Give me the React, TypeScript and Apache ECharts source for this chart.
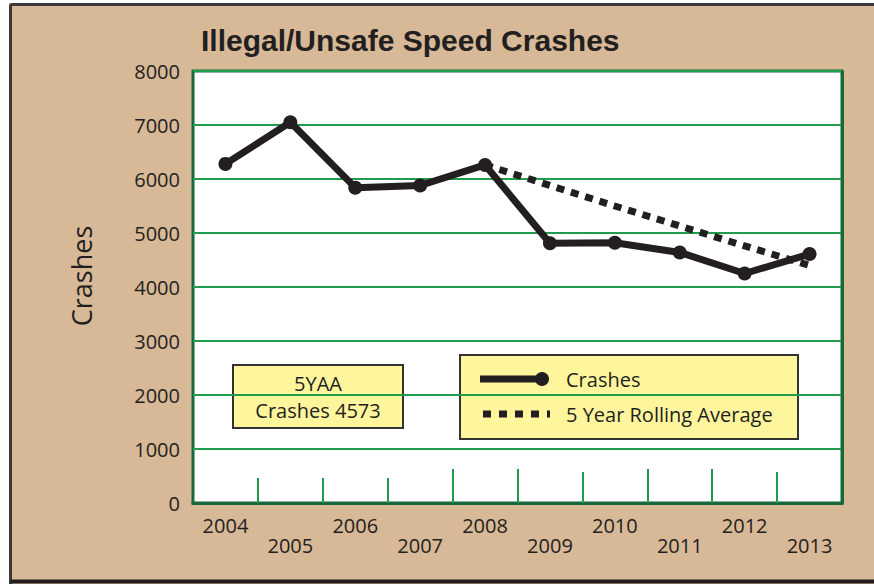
import React, { useEffect, useRef } from "react";
import * as echarts from "echarts";

const years = ["2004", "2005", "2006", "2007", "2008", "2009", "2010", "2011", "2012", "2013"];
const crashes = [6280, 7050, 5840, 5880, 6260, 4810, 4820, 4640, 4250, 4610];
const rollingAvg = [null, null, null, null, 6260, 5880, 5500, 5130, 4760, 4400];
const yTicks = { min: 0, max: 8000, interval: 1000 };
const annotationLines = ["5YAA", "Crashes 4573"];
const seriesNames = ["Crashes", "5 Year Rolling Average"];

const TAN = "#d7b897";
const INK = "#231f20";
const YELLOW = "#fef59c";
const DARK_GREEN = "#17683a";
const GREEN = "#1f9d4d";
const FONT = "'Open Sans', 'Noto Sans', sans-serif";

export default function App() {
  const ref = useRef<HTMLDivElement>(null);
  useEffect(() => {
    document.body.style.margin = "0";
    const chart = echarts.init(ref.current!, undefined, { renderer: "svg" });
    const tickAxis = (len: number, idx: number[]) => ({
      type: "category",
      data: years,
      position: "bottom",
      boundaryGap: true,
      axisLine: { show: false },
      axisLabel: { show: false },
      splitLine: { show: false },
      axisTick: {
        show: true,
        inside: true,
        length: len,
        interval: (i: number) => idx.includes(i),
        lineStyle: { color: GREEN, width: 2 },
      },
    });
    chart.setOption({
      animation: false,
      backgroundColor: TAN,
      textStyle: { fontFamily: FONT },
      title: {
        text: "Illegal/Unsafe Speed Crashes",
        left: 196,
        top: 20,
        textStyle: {
          fontFamily: "'Liberation Sans Narrow', 'Arial Narrow', sans-serif",
          fontWeight: "bold",
          fontSize: 30,
          color: INK,
        },
      },
      grid: {
        left: 193,
        right: 32,
        top: 71,
        bottom: 81,
        show: true,
        backgroundColor: "#ffffff",
        borderColor: DARK_GREEN,
        borderWidth: 3,
        containLabel: false,
      },
      xAxis: [
        {
          type: "category",
          data: years,
          position: "bottom",
          boundaryGap: true,
          axisLine: { show: true, lineStyle: { color: DARK_GREEN, width: 3 } },
          axisTick: {
            show: true,
            inside: true,
            length: 25,
            interval: (i: number) => i >= 1 && i <= 3,
            lineStyle: { color: GREEN, width: 2 },
          },
          axisLabel: {
            interval: 0,
            fontSize: 20,
            color: INK,
            fontFamily: FONT,
            margin: 12,
            lineHeight: 20,
            formatter: (v: string, i: number) => (i % 2 === 1 ? "\n" + v : v),
          },
          splitLine: { show: false },
        },
        tickAxis(34, [4, 5, 7, 8]),
        tickAxis(31, [6, 9]),
      ],
      yAxis: {
        type: "value",
        min: yTicks.min,
        max: yTicks.max,
        interval: yTicks.interval,
        name: "Crashes",
        nameLocation: "middle",
        nameGap: 98,
        nameRotate: 90,
        nameTextStyle: { fontSize: 27, color: INK, fontFamily: FONT, padding: [0, 0, 0, 22] },
        axisLine: { show: false },
        axisTick: { show: false },
        axisLabel: {
          fontSize: 20,
          color: INK,
          fontFamily: FONT,
          margin: 13,
          formatter: (v: number) => String(v),
        },
        splitLine: { show: true, lineStyle: { color: GREEN, width: 2 } },
      },
      series: [
        {
          name: seriesNames[1],
          type: "line",
          data: rollingAvg,
          xAxisIndex: 0,
          showSymbol: false,
          symbol: "none",
          lineStyle: { color: INK, width: 7, type: [8, 7], cap: "butt" },
          itemStyle: { color: INK },
          z: 3,
        },
        {
          name: seriesNames[0],
          type: "line",
          data: crashes,
          xAxisIndex: 0,
          symbol: "circle",
          symbolSize: 14,
          lineStyle: { color: INK, width: 7, join: "round" },
          itemStyle: { color: INK },
          z: 4,
        },
      ],
      graphic: [
        { type: "rect", shape: { x: 0, y: 0, width: 874, height: 3 }, style: { fill: "#ffffff" }, silent: true },
        { type: "rect", shape: { x: 0, y: 0, width: 9, height: 584 }, style: { fill: "#ffffff" }, silent: true },
        { type: "line", shape: { x1: 10.5, y1: 4.5, x2: 874, y2: 4.5 }, style: { stroke: "#3a3a3a", lineWidth: 3 }, silent: true },
        { type: "line", shape: { x1: 10.5, y1: 4.5, x2: 10.5, y2: 584 }, style: { stroke: "#3a3a3a", lineWidth: 3 }, silent: true },
        { type: "line", shape: { x1: 10.5, y1: 581.5, x2: 874, y2: 581.5 }, style: { stroke: "#231f20", lineWidth: 4 }, silent: true },
        { type: "line", z: 100, shape: { x1: 842.5, y1: 71, x2: 842.5, y2: 504 }, style: { stroke: DARK_GREEN, lineWidth: 3 }, silent: true },
        {
          type: "group",
          left: 232,
          top: 364,
          children: [
            { type: "rect", shape: { x: 0, y: 0, width: 170, height: 63 }, style: { fill: YELLOW, stroke: "#333", lineWidth: 2 } },
            { type: "text", x: 85, y: 18, style: { text: annotationLines[0], fontSize: 20, fontFamily: FONT, fill: INK, align: "center", verticalAlign: "middle" } },
            { type: "text", x: 85, y: 45, style: { text: annotationLines[1], fontSize: 20, fontFamily: FONT, fill: INK, align: "center", verticalAlign: "middle" } },
          ],
        },
        {
          type: "group",
          left: 459,
          top: 354,
          children: [
            { type: "rect", shape: { x: 0, y: 0, width: 338, height: 84 }, style: { fill: YELLOW, stroke: "#333", lineWidth: 2 } },
            { type: "line", shape: { x1: 20, y1: 24, x2: 82, y2: 24 }, style: { stroke: INK, lineWidth: 7 } },
            { type: "circle", shape: { cx: 82, cy: 24, r: 7 }, style: { fill: INK } },
            { type: "text", x: 106, y: 24, style: { text: seriesNames[0], fontSize: 20, fontFamily: FONT, fill: INK, verticalAlign: "middle" } },
            { type: "line", shape: { x1: 23, y1: 59, x2: 90, y2: 59 }, style: { stroke: INK, lineWidth: 7, lineDash: [8, 8] } },
            { type: "text", x: 106, y: 59, style: { text: seriesNames[1], fontSize: 20, fontFamily: FONT, fill: INK, verticalAlign: "middle" } },
          ],
        },
      ],
    });
    return () => chart.dispose();
  }, []);
  return <div ref={ref} style={{ width: 874, height: 584 }} />;
}
